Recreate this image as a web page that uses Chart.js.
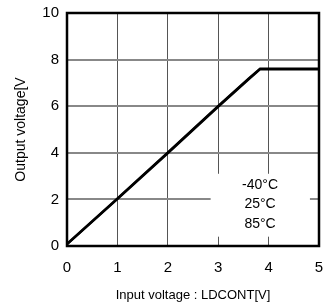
<!DOCTYPE html>
<html>
<head>
  <meta charset="utf-8"/>
  <script src="https://cdn.jsdelivr.net/npm/chart.js@4.4.1/dist/chart.umd.min.js"></script>
  <style>
    html, body { margin: 0; padding: 0; background: #ffffff; }
    #wrap { width: 329px; height: 307px; }
  </style>
</head>
<body>
  <div id="wrap"><canvas id="c" width="329" height="307"></canvas></div>
  <script>
    // input voltage (LDCONT) vs output voltage, three temperatures
    var xTicks = [0, 1, 2, 3, 4, 5];
    var yTicks = [0, 2, 4, 6, 8, 10];
    var inputV = [0, 1, 2, 3, 3.6, 3.83, 5];
    var outM40 = [0.10, 2.05, 4.02, 6.02, 7.19, 7.62, 7.62];
    var out25  = [0.08, 2.03, 4.00, 6.00, 7.17, 7.60, 7.60];
    var out85  = [0.06, 2.01, 3.97, 5.97, 7.14, 7.58, 7.58];
    var tempLabels = ["-40\u00B0C", "25\u00B0C", "85\u00B0C"];

    function pts(ys) {
      return inputV.map(function(x, i) { return { x: x, y: ys[i] }; });
    }

    var FONT = "'Liberation Sans', Arial, sans-serif";

    // white box with the temperature labels, plus black frame
    var labelBox = {
      id: "labelBox",
      beforeDatasetsDraw: function(chart) {
        var ctx = chart.ctx, xs = chart.scales.x, ys = chart.scales.y;
        var l = xs.getPixelForValue(2.85), r = xs.getPixelForValue(4.82);
        var t = ys.getPixelForValue(3.1), b = ys.getPixelForValue(0.4);
        ctx.save();
        ctx.fillStyle = "#ffffff";
        ctx.fillRect(l, t, r - l, b - t);
        ctx.fillStyle = "#000000";
        ctx.font = "14px " + FONT;
        ctx.textAlign = "center";
        ctx.textBaseline = "middle";
        var cx = xs.getPixelForValue(3.83);
        var rows = [2.6, 1.8, 0.95];
        tempLabels.forEach(function(s, i) {
          ctx.fillText(s, cx, ys.getPixelForValue(rows[i]));
        });
        ctx.restore();
      },
      afterDraw: function(chart) {
        var a = chart.chartArea, ctx = chart.ctx;
        ctx.save();
        ctx.strokeStyle = "#000000";
        ctx.lineWidth = 2.5;
        ctx.strokeRect(a.left, a.top, a.right - a.left, a.bottom - a.top);
        ctx.restore();
      }
    };

    function series(label, ys) {
      return {
        label: label,
        data: pts(ys),
        borderColor: "#000000",
        borderWidth: 2,
        pointRadius: 0,
        tension: 0,
        fill: false
      };
    }

    new Chart(document.getElementById("c"), {
      type: "line",
      data: {
        datasets: [
          series(tempLabels[0], outM40),
          series(tempLabels[1], out25),
          series(tempLabels[2], out85)
        ]
      },
      options: {
        responsive: false,
        animation: false,
        layout: { padding: { top: 13, right: 10, left: 0, bottom: 0 } },
        plugins: { legend: { display: false }, tooltip: { enabled: false } },
        scales: {
          x: {
            type: "linear",
            min: 0, max: 5,
            afterBuildTicks: function(s) { s.ticks = xTicks.map(function(v) { return { value: v }; }); },
            afterFit: function(s) { s.height = 61; s.paddingLeft = 0; s.paddingRight = 0; },
            grid: { color: "#555555", lineWidth: 1, drawTicks: false },
            border: { display: false },
            ticks: { color: "#000000", font: { family: FONT, size: 15 }, padding: 13, maxRotation: 0 },
            title: {
              display: true,
              text: "Input voltage : LDCONT[V]",
              color: "#000000",
              font: { family: FONT, size: 13 },
              padding: { top: 8, bottom: 4 }
            }
          },
          y: {
            type: "linear",
            min: 0, max: 10,
            afterBuildTicks: function(s) { s.ticks = yTicks.map(function(v) { return { value: v }; }); },
            afterFit: function(s) { s.width = 67; s.paddingTop = 0; s.paddingBottom = 0; },
            grid: { color: "#888888", lineWidth: 2, drawTicks: false },
            border: { display: false },
            ticks: { color: "#000000", font: { family: FONT, size: 15 }, padding: 8 },
            title: {
              display: true,
              text: "Output voltage[V",
              color: "#000000",
              font: { family: FONT, size: 14 },
              padding: { top: 13, bottom: 0 }
            }
          }
        }
      },
      plugins: [labelBox]
    });
  </script>
</body>
</html>
